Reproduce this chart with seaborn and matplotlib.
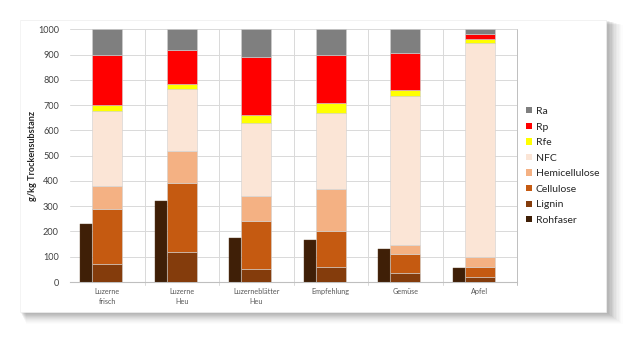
import numpy as np
import matplotlib
matplotlib.use("Agg")
import matplotlib.pyplot as plt
import matplotlib.patches as mpatches
import seaborn as sns

categories = ["Luzerne\nfrisch", "Luzerne\nHeu", "Luzerneblätter\nHeu", "Empfehlung", "Gemüse", "Apfel"]
lignin = [70, 120, 50, 60, 35, 20]
cellulose = [220, 270, 190, 140, 75, 40]
hemicellulose = [90, 130, 100, 170, 35, 40]
nfc = [295, 245, 290, 300, 590, 847]
rfe = [25, 20, 30, 40, 25, 16]
rp = [200, 135, 230, 190, 145, 17]
ra = [100, 80, 110, 100, 95, 20]
rohfaser = [230, 320, 175, 165, 130, 57]

stack_names = ["Lignin", "Cellulose", "Hemicellulose", "NFC", "Rfe", "Rp", "Ra"]
stack_values = [lignin, cellulose, hemicellulose, nfc, rfe, rp, ra]
colors = {
    "Ra": "#7F7F7F", "Rp": "#FF0000", "Rfe": "#FFFF00", "NFC": "#FBE5D6",
    "Hemicellulose": "#F4B183", "Cellulose": "#C55A11", "Lignin": "#843C0C",
    "Rohfaser": "#3F1F07",
}

sns.set_theme(style="white")
plt.rcParams["font.family"] = ["Lato", "DejaVu Sans"]

fig = plt.figure(figsize=(6.36, 3.43), dpi=100)
fig.patch.set_facecolor("white")

# card with soft shadow (figure coords)
W, H = 636, 343
cx0, cy0, cx1, cy1 = 20, 20, 606, 312
for i, a in enumerate([0.045, 0.045, 0.04, 0.04, 0.035, 0.03, 0.03, 0.025, 0.02, 0.02, 0.015, 0.01]):
    off = i + 1
    r = mpatches.Rectangle(((cx0 + off * 0.5) / W, 1 - (cy1 + off * 1.0) / H),
                           (cx1 - cx0 + off * 0.9) / W, (cy1 - cy0 + off * 0.6) / H,
                           transform=fig.transFigure, facecolor="black", alpha=a,
                           edgecolor="none", zorder=-20)
    fig.patches.append(r)
card = mpatches.Rectangle((cx0 / W, 1 - cy1 / H), (cx1 - cx0) / W, (cy1 - cy0) / H,
                          transform=fig.transFigure, facecolor="white", edgecolor="#F0F0F0",
                          linewidth=0.5, zorder=-10)
fig.patches.append(card)

ax = fig.add_axes([70 / W, 1 - 282 / H, (517 - 70) / W, (282 - 29.3) / H])
ax.set_facecolor("none")

x = np.arange(len(categories))
bar_w = 0.40
rf_w = 0.16
bottom = np.zeros(len(categories))
for name, vals in zip(stack_names, stack_values):
    ax.bar(x, vals, width=bar_w, bottom=bottom, color=colors[name],
           edgecolor="#D0D0D0", linewidth=0.4, zorder=3)
    bottom += np.array(vals)
ax.bar(x - bar_w / 2 - rf_w / 2, rohfaser, width=rf_w, color=colors["Rohfaser"],
       edgecolor="#5A3A20", linewidth=0.3, zorder=4)

ax.set_xlim(-0.5, 5.5)
ax.set_ylim(0, 1000)
ax.set_yticks(np.arange(0, 1001, 100))
ax.yaxis.grid(True, color="#D9D9D9", linewidth=0.7, zorder=0)
for b in np.arange(0.5, 5.6, 1.0):
    ax.axvline(b, ymin=-0.012, color="#D9D9D9" if b < 5 else "#BFBFBF",
               linewidth=0.7, zorder=1, clip_on=False)
ax.set_xticks(x)
ax.set_xticklabels(categories, fontsize=5.2, color="#595959", linespacing=1.5)
ax.tick_params(axis="x", length=0, pad=4)
ax.tick_params(axis="y", length=0, pad=8, labelsize=6.6, labelcolor="#404040")
for s in ["left", "top", "right"]:
    ax.spines[s].set_visible(False)
ax.spines["bottom"].set_color("#BFBFBF")
ax.spines["bottom"].set_linewidth(0.8)
ax.set_ylabel("g/kg Trockensubstanz", fontsize=6.6, fontweight="bold", color="#262626")
ax.yaxis.set_label_coords((37 - 70) / 447, 0.5)

legend_order = ["Ra", "Rp", "Rfe", "NFC", "Hemicellulose", "Cellulose", "Lignin", "Rohfaser"]
handles = [mpatches.Patch(facecolor=colors[n], edgecolor="none") for n in legend_order]
fig.legend(handles, legend_order, loc="upper left", bbox_to_anchor=(526 / W, 1 - 107 / H),
           frameon=False, fontsize=7.5, handlelength=0.55, handleheight=0.55,
           handletextpad=0.4, labelspacing=0.63, borderaxespad=0, borderpad=0)

fig.savefig("out.png", dpi=100)
